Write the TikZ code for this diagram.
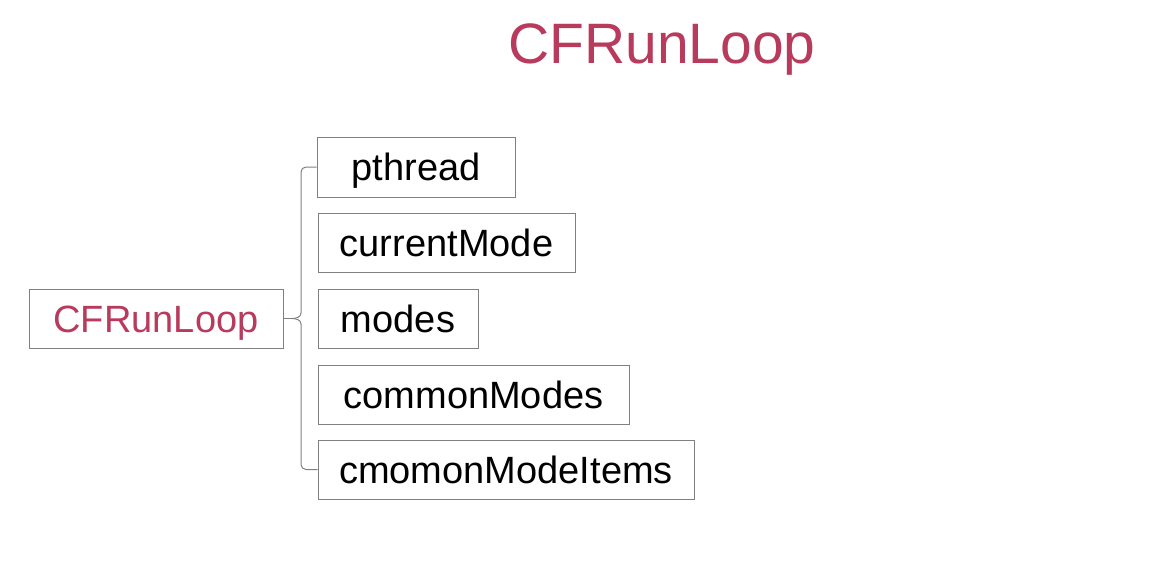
\documentclass[tikz,border=0pt]{standalone}
\usepackage{fontspec}
\setmainfont{Liberation Sans}
\definecolor{crim}{RGB}{184,58,92}
\definecolor{edge}{RGB}{128,128,128}
\begin{document}
\begin{tikzpicture}[x=1pt,y=-1pt,
  box/.style={draw=edge, line width=1pt, inner sep=0pt, minimum height=59pt,
    font=\fontsize{38}{40}\selectfont, text height=27.2pt, text depth=0pt},
  conn/.style={draw=edge, line width=1pt}]
\useasboundingbox (0,0) rectangle (1160,584);
\node[inner sep=0pt, text=crim, font=\fontsize{57}{60}\selectfont, text height=40.8pt, text depth=0pt] (title) at (662,43) {CFRunLoop};
\node[box, text=crim, minimum width=254pt] (root) at (156,318.5) {CFRunLoop};
\node[box, minimum width=198pt, minimum height=60pt] (pthread) at (416,167) {pthread};
\node[box, minimum width=257pt] (current) at (446.5,242.5) {currentMode};
\node[box, minimum width=160pt] (modes) at (398,318.5) {modes};
\node[box, minimum width=311pt] (common) at (473.5,394.5) {commonModes};
\node[box, minimum width=376pt] (items) at (506,469.5) {cmomonModeItems};
\coordinate (tip) at (292,318.5);
\draw[conn] (root.east) -- (tip);
\draw[conn] (pthread.west) -- (306,167) to[out=180,in=90] (301,172) -- (301,313) to[out=-90,in=0] (tip);
\draw[conn] (tip) to[out=0,in=90] (301,324) -- (301,464.5) to[out=-90,in=180] (306,469.5) -- (items.west);
\end{tikzpicture}
\end{document}
